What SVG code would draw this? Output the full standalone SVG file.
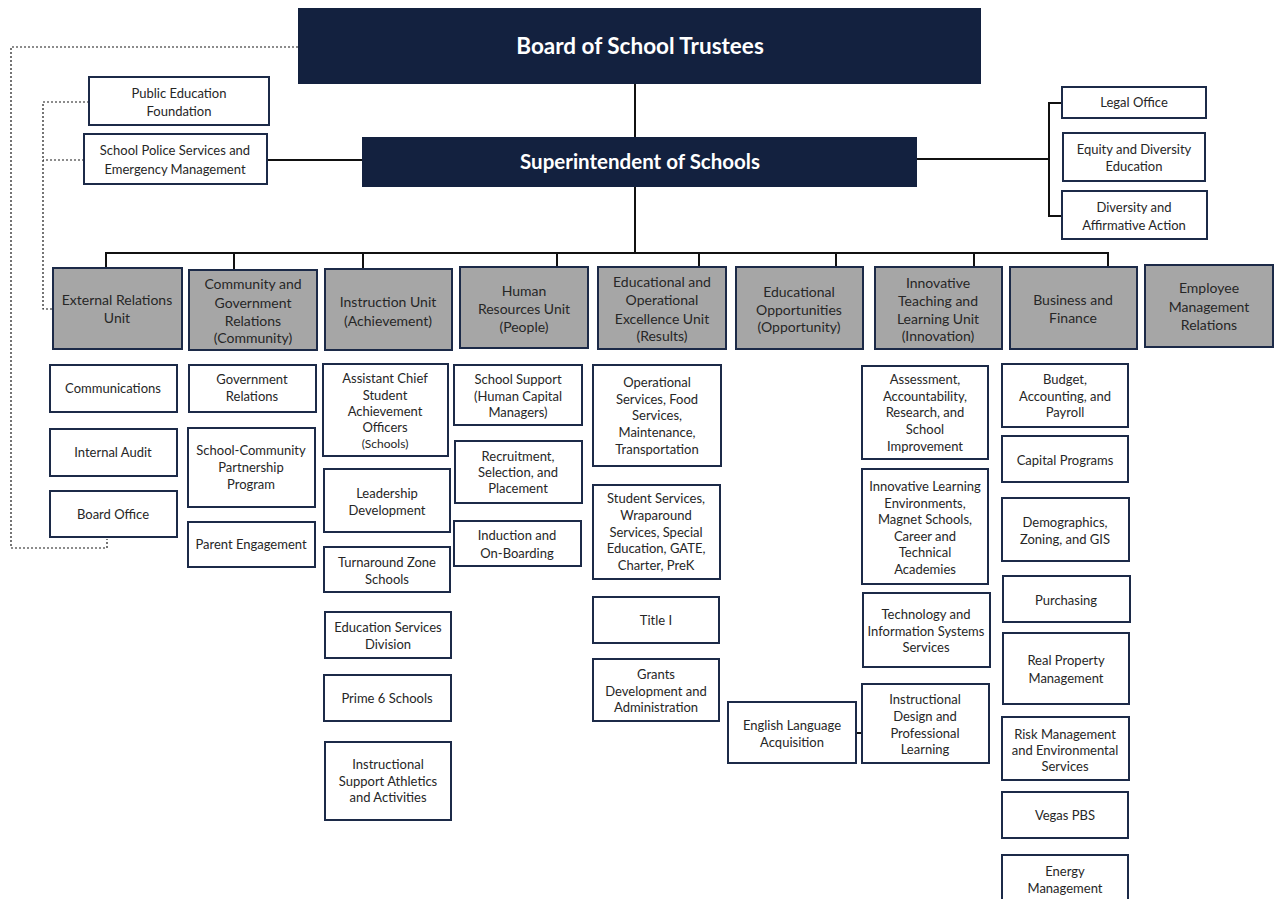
<svg xmlns="http://www.w3.org/2000/svg" width="1279" height="899" viewBox="0 0 1279 899">
  <style>
    .bg { fill: #ffffff; }
    .head rect { fill: #13213f; }
    .head text { fill: #ffffff; font-family: Lato, "Liberation Sans", sans-serif; font-weight: bold; text-anchor: middle; }
    .unit rect { fill: #a6a6a6; stroke: #1c2a48; stroke-width: 2; }
    .box rect { fill: #ffffff; stroke: #1c2a48; stroke-width: 2; }
    .unit text, .box text { fill: #262626; font-family: Lato, "Liberation Sans", sans-serif; font-size: 13px; text-anchor: middle; }
    .unit text { font-size: 14px; }
    text .sm { font-size: 12px; }
    .link { fill: none; stroke: #111111; stroke-width: 2; }
    .dot { fill: none; stroke: #1a1a1a; stroke-width: 1.2; stroke-dasharray: 2 2; }
  </style>
  <rect class="bg" x="0" y="0" width="1279" height="899"/>

  <!-- connectors -->
  <g id="connectors">
    <path class="link" d="M635,84 V137"/>
    <path class="link" d="M635,187 V253"/>
    <path class="link" d="M106,269 V253 H1108 V268"/>
    <path class="link" d="M234,253 V270 M363,253 V269 M557,253 V268 M699,253 V268 M836,253 V268 M974,253 V268"/>
    <path class="link" d="M267,160 H362"/>
    <path class="link" d="M917,159 H1049 M1062,103 H1049 V216 H1062"/>
    <path class="link" d="M856,733 H862"/>
    <path class="dot" d="M298,47 H11 V548 H107 V539"/>
    <path class="dot" d="M89,102 H43 V309 H53 M84,160 H43"/>
  </g>

  <!-- executive -->
  <g id="board" class="head">
    <rect x="298" y="8" width="683" height="76"/>
    <text x="640" y="54" font-size="22.5">Board of School Trustees</text>
  </g>
  <g id="superintendent" class="head">
    <rect x="362" y="137" width="555" height="50"/>
    <text x="640" y="169" font-size="20.5">Superintendent of Schools</text>
  </g>

  <!-- offices beside the superintendent -->
  <g id="public-education-foundation" class="box">
    <rect x="89" y="77" width="180" height="48"/>
    <text x="179" y="98">Public Education</text>
    <text x="179" y="116">Foundation</text>
  </g>
  <g id="school-police" class="box">
    <rect x="84" y="134" width="183" height="50"/>
    <text x="175" y="155">School Police Services and</text>
    <text x="175" y="174">Emergency Management</text>
  </g>
  <g id="legal-office" class="box">
    <rect x="1062" y="87" width="144" height="31"/>
    <text x="1134" y="107">Legal Office</text>
  </g>
  <g id="equity-diversity" class="box">
    <rect x="1063" y="133" width="142" height="48"/>
    <text x="1134" y="154">Equity and Diversity</text>
    <text x="1134" y="171">Education</text>
  </g>
  <g id="diversity-affirmative" class="box">
    <rect x="1062" y="191" width="145" height="48"/>
    <text x="1134" y="212">Diversity and</text>
    <text x="1134" y="230">Affirmative Action</text>
  </g>

  <!-- units -->
  <g id="unit-external" class="unit">
    <rect x="53" y="268" width="129" height="81"/>
    <text x="117" y="305">External Relations</text>
    <text x="117" y="323">Unit</text>
  </g>
  <g id="unit-community" class="unit">
    <rect x="189" y="270" width="128" height="80"/>
    <text x="253" y="289">Community and</text>
    <text x="253" y="308">Government</text>
    <text x="253" y="326">Relations</text>
    <text x="253" y="343">(Community)</text>
  </g>
  <g id="unit-instruction" class="unit">
    <rect x="325" y="269" width="127" height="81"/>
    <text x="388" y="307">Instruction Unit</text>
    <text x="388" y="326">(Achievement)</text>
  </g>
  <g id="unit-hr" class="unit">
    <rect x="460" y="267" width="128" height="81"/>
    <text x="524" y="296">Human</text>
    <text x="524" y="314">Resources Unit</text>
    <text x="524" y="332">(People)</text>
  </g>
  <g id="unit-excellence" class="unit">
    <rect x="598" y="267" width="128" height="82"/>
    <text x="662" y="287">Educational and</text>
    <text x="662" y="305">Operational</text>
    <text x="662" y="324">Excellence Unit</text>
    <text x="662" y="341">(Results)</text>
  </g>
  <g id="unit-opportunities" class="unit">
    <rect x="736" y="267" width="127" height="82"/>
    <text x="799" y="297">Educational</text>
    <text x="799" y="315">Opportunities</text>
    <text x="799" y="332">(Opportunity)</text>
  </g>
  <g id="unit-innovation" class="unit">
    <rect x="875" y="267" width="127" height="82"/>
    <text x="938" y="288">Innovative</text>
    <text x="938" y="306">Teaching and</text>
    <text x="938" y="324">Learning Unit</text>
    <text x="938" y="341">(Innovation)</text>
  </g>
  <g id="unit-business" class="unit">
    <rect x="1010" y="267" width="127" height="82"/>
    <text x="1073" y="305">Business and</text>
    <text x="1073" y="323">Finance</text>
  </g>
  <g id="unit-employee" class="unit">
    <rect x="1145" y="265" width="128" height="82"/>
    <text x="1209" y="293">Employee</text>
    <text x="1209" y="312">Management</text>
    <text x="1209" y="330">Relations</text>
  </g>

  <!-- External Relations -->
  <g id="communications" class="box">
    <rect x="50" y="365" width="127" height="47"/>
    <text x="113" y="393">Communications</text>
  </g>
  <g id="internal-audit" class="box">
    <rect x="50" y="429" width="127" height="47"/>
    <text x="113" y="457">Internal Audit</text>
  </g>
  <g id="board-office" class="box">
    <rect x="50" y="491" width="127" height="46"/>
    <text x="113" y="519">Board Office</text>
  </g>

  <!-- Community and Government Relations -->
  <g id="government-relations" class="box">
    <rect x="189" y="365" width="127" height="47"/>
    <text x="252" y="384">Government</text>
    <text x="252" y="401">Relations</text>
  </g>
  <g id="school-community" class="box">
    <rect x="188" y="428" width="127" height="79"/>
    <text x="251" y="455">School-Community</text>
    <text x="251" y="472">Partnership</text>
    <text x="251" y="489">Program</text>
  </g>
  <g id="parent-engagement" class="box">
    <rect x="188" y="522" width="127" height="45"/>
    <text x="251" y="549">Parent Engagement</text>
  </g>

  <!-- Instruction -->
  <g id="assistant-chief" class="box">
    <rect x="323" y="364" width="125" height="92"/>
    <text x="385" y="383">Assistant Chief</text>
    <text x="385" y="400">Student</text>
    <text x="385" y="416">Achievement</text>
    <text x="385" y="432">Officers</text>
    <text x="385" y="448"><tspan class="sm">(Schools)</tspan></text>
  </g>
  <g id="leadership-development" class="box">
    <rect x="324" y="469" width="126" height="63"/>
    <text x="387" y="498">Leadership</text>
    <text x="387" y="515">Development</text>
  </g>
  <g id="turnaround" class="box">
    <rect x="324" y="547" width="126" height="45"/>
    <text x="387" y="567">Turnaround Zone</text>
    <text x="387" y="584">Schools</text>
  </g>
  <g id="education-services" class="box">
    <rect x="325" y="612" width="126" height="46"/>
    <text x="388" y="632">Education Services</text>
    <text x="388" y="649">Division</text>
  </g>
  <g id="prime-6" class="box">
    <rect x="324" y="675" width="127" height="46"/>
    <text x="387" y="703">Prime 6 Schools</text>
  </g>
  <g id="athletics" class="box">
    <rect x="325" y="742" width="126" height="78"/>
    <text x="388" y="769">Instructional</text>
    <text x="388" y="786">Support Athletics</text>
    <text x="388" y="802">and Activities</text>
  </g>

  <!-- Human Resources -->
  <g id="school-support" class="box">
    <rect x="454" y="365" width="128" height="60"/>
    <text x="518" y="384">School Support</text>
    <text x="518" y="401">(Human Capital</text>
    <text x="518" y="417">Managers)</text>
  </g>
  <g id="recruitment" class="box">
    <rect x="455" y="441" width="127" height="62"/>
    <text x="518" y="461">Recruitment,</text>
    <text x="518" y="477">Selection, and</text>
    <text x="518" y="493">Placement</text>
  </g>
  <g id="induction" class="box">
    <rect x="454" y="521" width="127" height="45"/>
    <text x="517" y="540">Induction and</text>
    <text x="517" y="558">On-Boarding</text>
  </g>

  <!-- Educational and Operational Excellence -->
  <g id="operational-services" class="box">
    <rect x="593" y="365" width="128" height="101"/>
    <text x="657" y="387">Operational</text>
    <text x="657" y="404">Services, Food</text>
    <text x="657" y="420">Services,</text>
    <text x="657" y="437">Maintenance,</text>
    <text x="657" y="454">Transportation</text>
  </g>
  <g id="student-services" class="box">
    <rect x="593" y="485" width="127" height="94"/>
    <text x="656" y="503">Student Services,</text>
    <text x="656" y="520">Wraparound</text>
    <text x="656" y="537">Services, Special</text>
    <text x="656" y="553">Education, GATE,</text>
    <text x="656" y="570">Charter, PreK</text>
  </g>
  <g id="title-i" class="box">
    <rect x="593" y="597" width="126" height="46"/>
    <text x="656" y="625">Title I</text>
  </g>
  <g id="grants" class="box">
    <rect x="593" y="659" width="126" height="62"/>
    <text x="656" y="679">Grants</text>
    <text x="656" y="696">Development and</text>
    <text x="656" y="712">Administration</text>
  </g>

  <!-- Educational Opportunities -->
  <g id="english-language" class="box">
    <rect x="728" y="702" width="128" height="61"/>
    <text x="792" y="730">English Language</text>
    <text x="792" y="747">Acquisition</text>
  </g>

  <!-- Innovative Teaching and Learning -->
  <g id="assessment" class="box">
    <rect x="862" y="366" width="126" height="93"/>
    <text x="925" y="384">Assessment,</text>
    <text x="925" y="401">Accountability,</text>
    <text x="925" y="417">Research, and</text>
    <text x="925" y="434">School</text>
    <text x="925" y="451">Improvement</text>
  </g>
  <g id="innovative-learning" class="box">
    <rect x="862" y="469" width="126" height="115"/>
    <text x="925" y="491">Innovative Learning</text>
    <text x="925" y="508">Environments,</text>
    <text x="925" y="524">Magnet Schools,</text>
    <text x="925" y="541">Career and</text>
    <text x="925" y="557">Technical</text>
    <text x="925" y="574">Academies</text>
  </g>
  <g id="technology" class="box">
    <rect x="863" y="593" width="127" height="74"/>
    <text x="926" y="619">Technology and</text>
    <text x="926" y="636">Information Systems</text>
    <text x="926" y="652">Services</text>
  </g>
  <g id="instructional-design" class="box">
    <rect x="862" y="684" width="127" height="79"/>
    <text x="925" y="704">Instructional</text>
    <text x="925" y="721">Design and</text>
    <text x="925" y="738">Professional</text>
    <text x="925" y="754">Learning</text>
  </g>

  <!-- Business and Finance -->
  <g id="budget" class="box">
    <rect x="1002" y="364" width="126" height="63"/>
    <text x="1065" y="384">Budget,</text>
    <text x="1065" y="401">Accounting, and</text>
    <text x="1065" y="417">Payroll</text>
  </g>
  <g id="capital-programs" class="box">
    <rect x="1002" y="436" width="126" height="46"/>
    <text x="1065" y="465">Capital Programs</text>
  </g>
  <g id="demographics" class="box">
    <rect x="1002" y="498" width="127" height="63"/>
    <text x="1065" y="527">Demographics,</text>
    <text x="1065" y="544">Zoning, and GIS</text>
  </g>
  <g id="purchasing" class="box">
    <rect x="1003" y="576" width="127" height="46"/>
    <text x="1066" y="605">Purchasing</text>
  </g>
  <g id="real-property" class="box">
    <rect x="1003" y="633" width="126" height="71"/>
    <text x="1066" y="665">Real Property</text>
    <text x="1066" y="683">Management</text>
  </g>
  <g id="risk-management" class="box">
    <rect x="1002" y="717" width="127" height="63"/>
    <text x="1065" y="739">Risk Management</text>
    <text x="1065" y="755">and Environmental</text>
    <text x="1065" y="771">Services</text>
  </g>
  <g id="vegas-pbs" class="box">
    <rect x="1002" y="792" width="126" height="46"/>
    <text x="1065" y="820">Vegas PBS</text>
  </g>
  <g id="energy-management" class="box">
    <rect x="1002" y="855" width="126" height="52"/>
    <text x="1065" y="876">Energy</text>
    <text x="1065" y="893">Management</text>
  </g>
</svg>
